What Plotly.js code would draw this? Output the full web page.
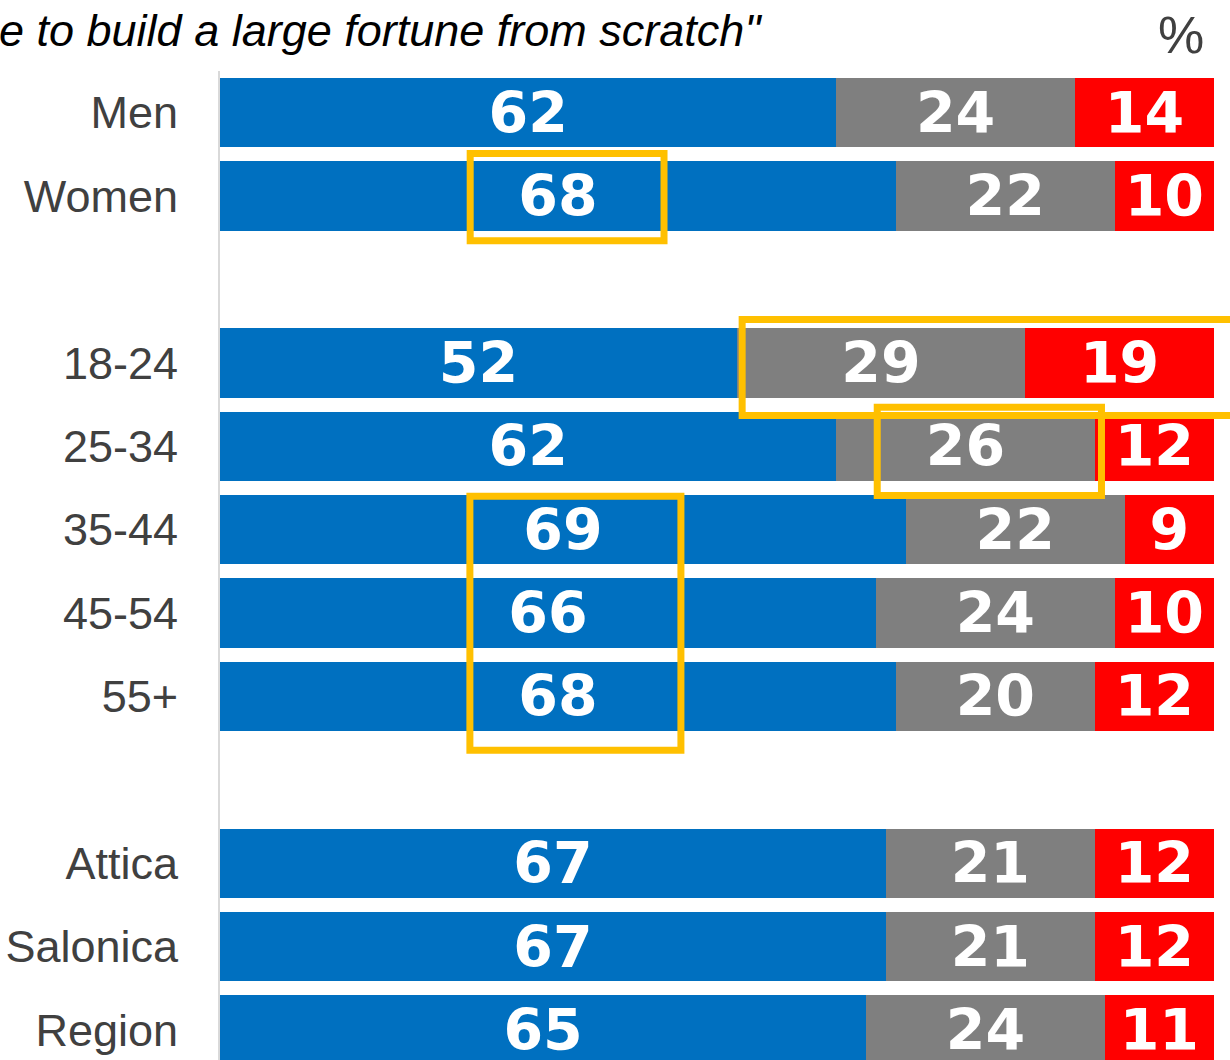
<!DOCTYPE html>
<html><head><meta charset="utf-8">
<script src="https://cdn.plot.ly/plotly-3.0.1.min.js"></script>
<style>html,body{margin:0;padding:0;background:#fff;overflow:hidden}#chart{width:1230px;height:1060px}</style>
</head><body><div id="chart"></div>
<script>
// ---- data ----
const categories = ['Men','Women',' ','18-24','25-34','35-44','45-54','55+','  ','Attica','Salonica','Region'];
const agree    = [62,68,null,52,62,69,66,68,null,67,67,65];
const neutral  = [24,22,null,29,26,22,24,20,null,21,21,24];
const disagree = [14,10,null,19,12, 9,10,12,null,12,12,11];
const seriesNames = ['Agree','Neither','Disagree'];
const titleText = 'e to build a large fortune from scratch"';
const unitText = '%';

const seriesColors = ['#0070C0','#7F7F7F','#FF0000'];
const allSeries = [agree, neutral, disagree];

const traces = allSeries.map((vals, i) => ({
  type: 'bar',
  orientation: 'h',
  name: seriesNames[i],
  y: categories,
  x: vals,
  marker: {color: seriesColors[i], line: {width: 0}},
  text: vals.map(v => v == null ? '' : String(v)),
  textposition: 'inside',
  insidetextanchor: 'middle',
  textangle: 0,
  constraintext: 'none',
  textfont: {family: 'DejaVu Sans', size: 57, color: '#FFFFFF', weight: 700},
  hoverinfo: 'skip'
}));

const hl = {type: 'rect', line: {color: '#FFC000', width: 7}, fillcolor: 'rgba(0,0,0,0)', layer: 'above'};
const shapes = [
  Object.assign({}, hl, {xref: 'x', yref: 'y', x0: 25.17, x1: 44.67, y0: 0.488, y1: 1.537}),
  Object.assign({}, hl, {xref: 'paper', yref: 'y', x0: 0.5253, x1: 1.06, y0: 2.481, y1: 3.632}),
  Object.assign({}, hl, {xref: 'x', yref: 'y', x0: 66.12, x1: 88.68, y0: 3.532, y1: 4.592}),
  Object.assign({}, hl, {xref: 'x', yref: 'y', x0: 25.14, x1: 46.37, y0: 4.599, y1: 7.645})
];

const layout = {
  width: 1230, height: 1060,
  margin: {l: 220, r: 16, t: 71, b: 0, pad: 0},
  paper_bgcolor: '#FFFFFF', plot_bgcolor: '#FFFFFF',
  barmode: 'stack',
  bargap: 0.168,
  showlegend: false,
  xaxis: {range: [0, 100], visible: false, fixedrange: true},
  yaxis: {
    type: 'category', categoryorder: 'array', categoryarray: categories,
    range: [11.36, -0.5],
    showline: true, linecolor: '#D9D9D9', linewidth: 2,
    ticks: 'outside', ticklen: 31, tickcolor: 'rgba(0,0,0,0)',
    tickfont: {family: 'Liberation Sans, Arial, sans-serif', size: 45, color: '#404040'},
    showgrid: false, zeroline: false, fixedrange: true
  },
  shapes: shapes,
  annotations: [
    {xref: 'paper', yref: 'paper', x: (764 - 220) / 994, y: 1 + (71 - 31) / 989,
     xanchor: 'right', yanchor: 'middle', showarrow: false, text: titleText,
     font: {family: 'Liberation Sans, Arial, sans-serif', size: 45, color: '#000000', style: 'italic'}},
    {xref: 'paper', yref: 'paper', x: (1181 - 220) / 994, y: 1 + (71 - 35) / 989,
     xanchor: 'center', yanchor: 'middle', showarrow: false, text: unitText,
     font: {family: 'Liberation Sans, Arial, sans-serif', size: 52, color: '#404040'}}
  ]
};

Plotly.newPlot('chart', traces, layout, {staticPlot: true, displayModeBar: false});
</script>
</body></html>
